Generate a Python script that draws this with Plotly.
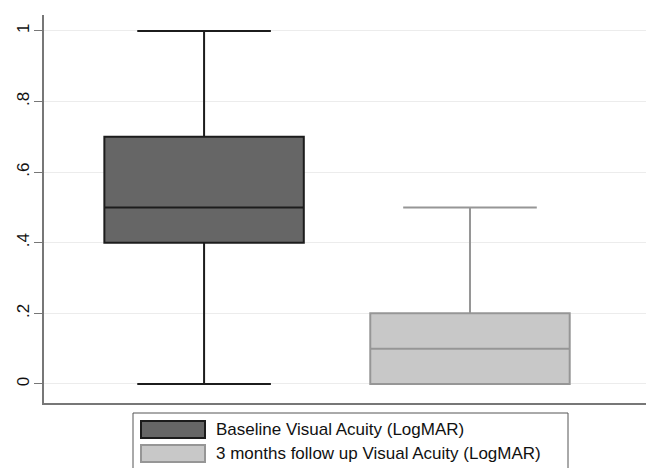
import plotly.graph_objects as go

# ---- data ----
series_names = ["Baseline Visual Acuity (LogMAR)", "3 months follow up Visual Acuity (LogMAR)"]
positions = [1, 2]
lower_fence = [0.0, 0.0]
q1 = [0.4, 0.0]
median = [0.5, 0.1]
q3 = [0.7, 0.2]
upper_fence = [1.0, 0.5]
fill_colors = ["#666666", "#c8c8c8"]
line_colors = ["#1c1c1c", "#969696"]
tick_vals = [0, 0.2, 0.4, 0.6, 0.8, 1.0]
tick_text = ["0", ".2", ".4", ".6", ".8", "1"]

# page body has an 8px default margin; compensate
OFF = 8
W, H = 654 - OFF, 468 - OFF
L, R, T, B = 44 - OFF, 0, 15 - OFF, 65
pw, ph = W - L - R, H - T - B

def px_x(x):  # x in window pixels
    return (x - OFF - L) / pw

def px_y(y):
    return (H - B - (y - OFF)) / ph

fig = go.Figure()
for i in range(2):
    fig.add_trace(go.Box(
        x=[positions[i]],
        q1=[q1[i]], median=[median[i]], q3=[q3[i]],
        lowerfence=[lower_fence[i]], upperfence=[upper_fence[i]],
        name=series_names[i],
        fillcolor=fill_colors[i],
        line=dict(color=line_colors[i], width=2),
        width=0.75,
        whiskerwidth=0.67,
        boxpoints=False,
        showlegend=False,
        hoverinfo="skip",
    ))

shapes = []
annotations = []
# legend frame
shapes.append(dict(type="rect", xref="paper", yref="paper",
                   x0=px_x(133), x1=px_x(568), y0=px_y(413), y1=px_y(480),
                   line=dict(color="#555555", width=1), fillcolor="white", layer="above"))
sw_tops = [421, 445]
for i in range(2):
    shapes.append(dict(type="rect", xref="paper", yref="paper",
                       x0=px_x(141), x1=px_x(205), y0=px_y(sw_tops[i]), y1=px_y(sw_tops[i] + 17),
                       line=dict(color=line_colors[i], width=2), fillcolor=fill_colors[i], layer="above"))
    annotations.append(dict(xref="paper", yref="paper", x=px_x(214), y=px_y(sw_tops[i] + 8.5),
                            text=series_names[i], showarrow=False, xanchor="left", yanchor="middle",
                            font=dict(family="Liberation Sans, Arial", size=17, color="#111111")))

fig.update_layout(
    width=W, height=H,
    margin=dict(l=L, r=R, t=T, b=B, pad=0, autoexpand=False),
    paper_bgcolor="white", plot_bgcolor="white",
    shapes=shapes, annotations=annotations,
    font=dict(family="Liberation Sans, Arial", size=15, color="#111111"),
    boxgap=0, boxgroupgap=0,
)
fig.update_xaxes(range=[0.398, 2.692], showticklabels=False, ticks="", showgrid=False,
                 zeroline=False, showline=True, linecolor="#777777", linewidth=2, automargin=False)
fig.update_yaxes(range=[-0.054, 1.045], tickvals=tick_vals, ticktext=tick_text, tickangle=-90,
                 ticks="outside", ticklen=8, tickcolor="#777777", tickwidth=1,
                 ticklabelstandoff=-2,
                 showgrid=True, gridcolor="#ececec", gridwidth=1, zeroline=False,
                 showline=True, linecolor="#777777", linewidth=2, automargin=False,
                 tickfont=dict(size=17, family="Liberation Sans, Arial", color="#111111"))

fig.write_html("out.html")
